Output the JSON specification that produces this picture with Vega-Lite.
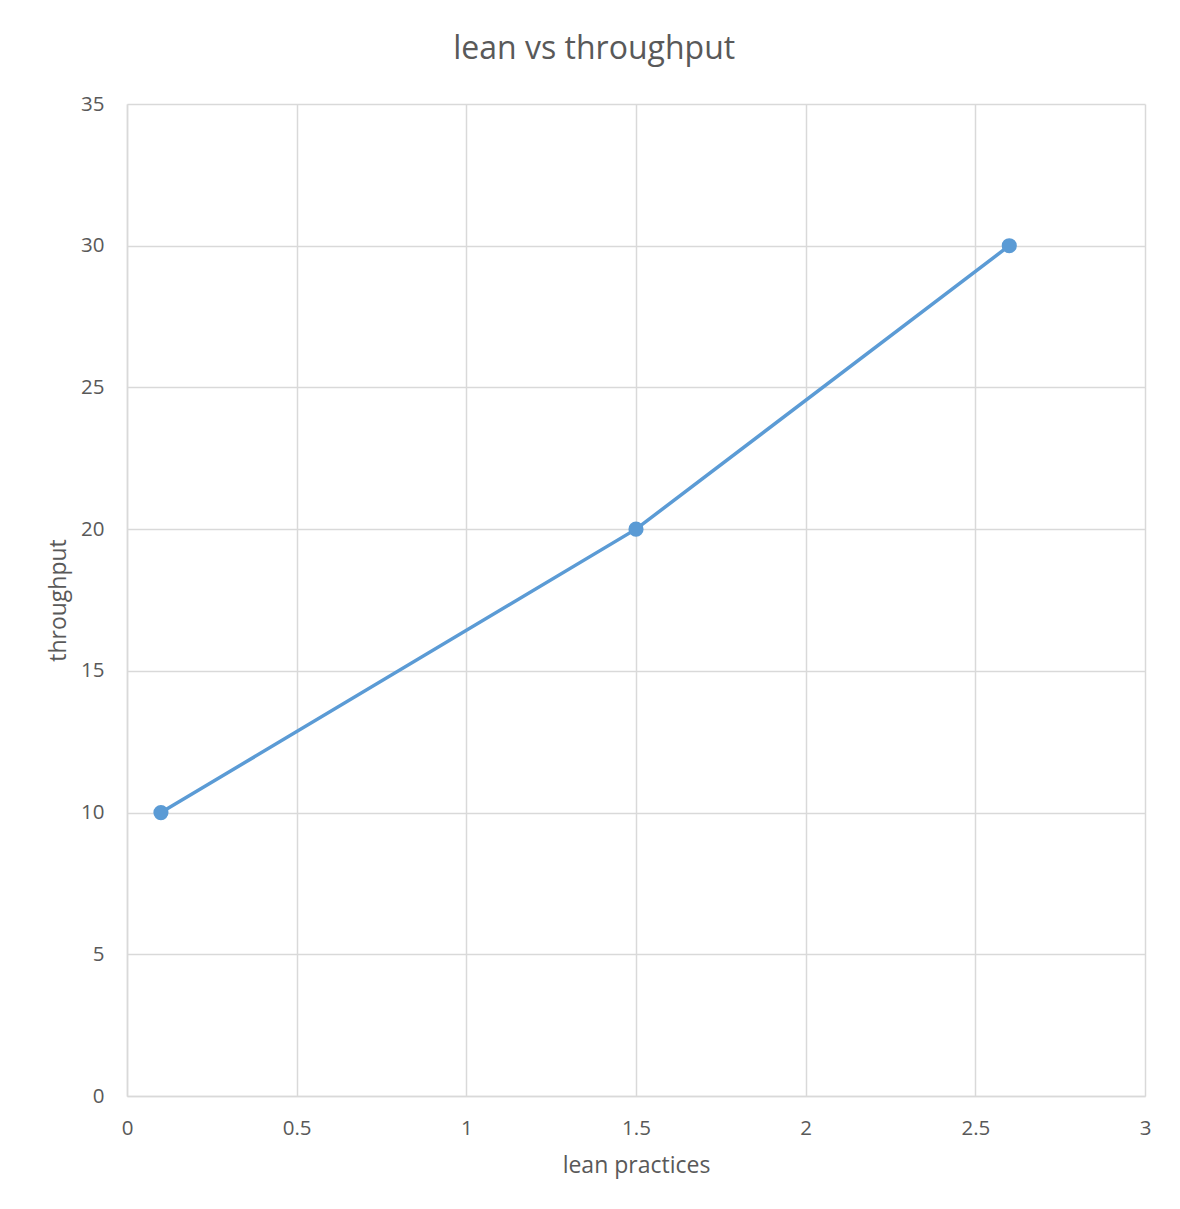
{
  "$schema": "https://vega.github.io/schema/vega-lite/v6.json",
  "width": 1018,
  "height": 992,
  "autosize": {"type": "none"},
  "padding": {"left": 127, "top": 104, "right": 35, "bottom": 113},
  "background": "white",
  "title": {"text": "lean vs throughput", "font": "Open Sans", "fontSize": 32, "fontWeight": "normal", "color": "#595959", "offset": 28, "anchor": "middle", "frame": "bounds", "dx": -5},
  "config": {
    "view": {"stroke": null},
    "axis": {
      "labelFont": "Open Sans", "labelFontSize": 20.5, "labelColor": "#595959",
      "titleFont": "Open Sans", "titleFontSize": 23, "titleFontWeight": "normal", "titleColor": "#595959",
      "gridColor": "#D9D9D9", "gridWidth": 1.5, "domainColor": "#D9D9D9", "domainWidth": 1.5,
      "ticks": false, "tickSize": 0
    }
  },
  "data": {"values": [
    {"lean practices": 0.1, "throughput": 10},
    {"lean practices": 1.5, "throughput": 20},
    {"lean practices": 2.6, "throughput": 30}
  ]},
  "encoding": {
    "x": {"field": "lean practices", "type": "quantitative", "scale": {"domain": [0, 3], "nice": false},
      "axis": {"values": [0, 0.5, 1, 1.5, 2, 2.5, 3], "format": "~g", "labelPadding": 22, "titlePadding": 16, "labelFlush": false}},
    "y": {"field": "throughput", "type": "quantitative", "scale": {"domain": [0, 35], "nice": false},
      "axis": {"values": [0, 5, 10, 15, 20, 25, 30, 35], "labelPadding": 23, "titlePadding": 10, "labelFlush": false}}
  },
  "layer": [
    {"mark": {"type": "line", "color": "#5B9BD5", "strokeWidth": 3.5}},
    {"mark": {"type": "point", "filled": true, "color": "#5B9BD5", "opacity": 1, "size": 230}}
  ]
}
